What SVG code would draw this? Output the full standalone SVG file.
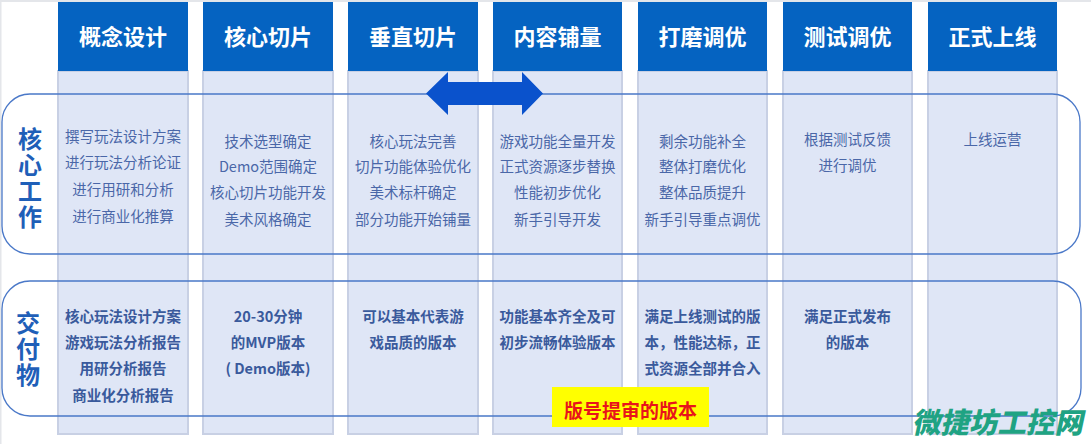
<svg xmlns="http://www.w3.org/2000/svg" width="1091" height="444" viewBox="0 0 1091 444">
<style>
.hd{fill:#0563c1}
.col{fill:#dfe6f6;stroke:#c8d0e4;stroke-width:2}
.ht{font-family:"Noto Sans CJK SC","Noto Sans",sans-serif;font-weight:bold;font-size:22px;fill:#fff;text-anchor:middle}
.wk{font-family:"Noto Sans CJK SC","Noto Sans",sans-serif;font-size:14.5px;fill:#4a67a8;text-anchor:middle}
.dl{font-family:"Noto Sans CJK SC","Noto Sans",sans-serif;font-weight:bold;font-size:14.5px;fill:#3a5a9c;text-anchor:middle}
.lb{font-family:"Noto Sans CJK SC","Noto Sans",sans-serif;font-weight:bold;font-size:24px;fill:#1f5fb8;writing-mode:tb;letter-spacing:2px}
.band{fill:none;stroke:#4a78c8;stroke-width:1.3}
</style>
<rect x="0" y="0" width="1091" height="444" fill="#fff"/>
<rect x="0" y="0" width="1091" height="2" fill="#e4e6ea"/>
<rect x="0" y="0" width="1.5" height="444" fill="#e4e6ea"/>
<g id="col1"><rect class="col" x="58" y="71" width="130" height="363"/><rect class="hd" x="58" y="2" width="130" height="69"/><text class="ht" x="123" y="45">概念设计</text></g>
<g id="col2"><rect class="col" x="203" y="71" width="130" height="363"/><rect class="hd" x="203" y="2" width="130" height="69"/><text class="ht" x="268" y="45">核心切片</text></g>
<g id="col3"><rect class="col" x="348" y="71" width="130" height="363"/><rect class="hd" x="348" y="2" width="130" height="69"/><text class="ht" x="413" y="45">垂直切片</text></g>
<g id="col4"><rect class="col" x="493" y="71" width="129" height="363"/><rect class="hd" x="493" y="2" width="129" height="69"/><text class="ht" x="557.5" y="45">内容铺量</text></g>
<g id="col5"><rect class="col" x="638" y="71" width="129" height="363"/><rect class="hd" x="638" y="2" width="129" height="69"/><text class="ht" x="702.5" y="45">打磨调优</text></g>
<g id="col6"><rect class="col" x="783" y="71" width="129" height="363"/><rect class="hd" x="783" y="2" width="129" height="69"/><text class="ht" x="847.5" y="45">测试调优</text></g>
<g id="col7"><rect class="col" x="928" y="71" width="129" height="363"/><rect class="hd" x="928" y="2" width="129" height="69"/><text class="ht" x="992.5" y="45">正式上线</text></g>
<g id="core">
<rect class="band" x="2" y="94" width="1078" height="160" rx="28" ry="28"/>
<text class="lb" x="30" y="127">核心工作</text>
<text class="wk" x="123" y="142">撰写玩法设计方案</text><text class="wk" x="123" y="168">进行玩法分析论证</text><text class="wk" x="123" y="195">进行用研和分析</text><text class="wk" x="123" y="222">进行商业化推算</text>
<text class="wk" x="268" y="147">技术选型确定</text><text class="wk" x="268" y="172">Demo范围确定</text><text class="wk" x="268" y="198">核心切片功能开发</text><text class="wk" x="268" y="225">美术风格确定</text>
<text class="wk" x="413" y="147">核心玩法完善</text><text class="wk" x="413" y="172">切片功能体验优化</text><text class="wk" x="413" y="198">美术标杆确定</text><text class="wk" x="413" y="225">部分功能开始铺量</text>
<text class="wk" x="557.5" y="147">游戏功能全量开发</text><text class="wk" x="557.5" y="172">正式资源逐步替换</text><text class="wk" x="557.5" y="198">性能初步优化</text><text class="wk" x="557.5" y="225">新手引导开发</text>
<text class="wk" x="702.5" y="147">剩余功能补全</text><text class="wk" x="702.5" y="172">整体打磨优化</text><text class="wk" x="702.5" y="198">整体品质提升</text><text class="wk" x="702.5" y="225">新手引导重点调优</text>
<text class="wk" x="847.5" y="145">根据测试反馈</text><text class="wk" x="847.5" y="171">进行调优</text>
<text class="wk" x="992.5" y="145">上线运营</text>
</g>
<g id="deliver">
<rect class="band" x="2" y="281" width="1079" height="135" rx="28" ry="28"/>
<text class="lb" x="28" y="311">交付物</text>
<text class="dl" x="123" y="322">核心玩法设计方案</text><text class="dl" x="123" y="348">游戏玩法分析报告</text><text class="dl" x="123" y="374">用研分析报告</text><text class="dl" x="123" y="401">商业化分析报告</text>
<text class="dl" x="268" y="322">20-30分钟</text><text class="dl" x="268" y="348">的MVP版本</text><text class="dl" x="268" y="374">( Demo版本)</text>
<text class="dl" x="413" y="322">可以基本代表游</text><text class="dl" x="413" y="348">戏品质的版本</text>
<text class="dl" x="557.5" y="322">功能基本齐全及可</text><text class="dl" x="557.5" y="348">初步流畅体验版本</text>
<text class="dl" x="702.5" y="322">满足上线测试的版</text><text class="dl" x="702.5" y="348">本，性能达标，正</text><text class="dl" x="702.5" y="374">式资源全部并合入</text>
<text class="dl" x="847.5" y="322">满足正式发布</text><text class="dl" x="847.5" y="348">的版本</text>
</g>
<g id="connectors">
<polygon points="426,93.5 448,72 448,82 522,82 522,72 543,93.5 522,115 522,105 448,105 448,115" fill="#0a52cc"/>
</g>
<g id="tag">
<rect x="552" y="387" width="157" height="40" fill="#ffff00"/>
<text x="630.5" y="418" font-family="'Noto Sans CJK SC',sans-serif" font-weight="bold" font-size="19" fill="#e8141b" text-anchor="middle">版号提审的版本</text>
</g>
<text x="912" y="0" font-family="'Noto Sans CJK SC',sans-serif" font-weight="900" font-size="28.5" fill="#1fa383" transform="translate(0,433) skewX(-12)">微捷坊工控网</text>
</svg>
